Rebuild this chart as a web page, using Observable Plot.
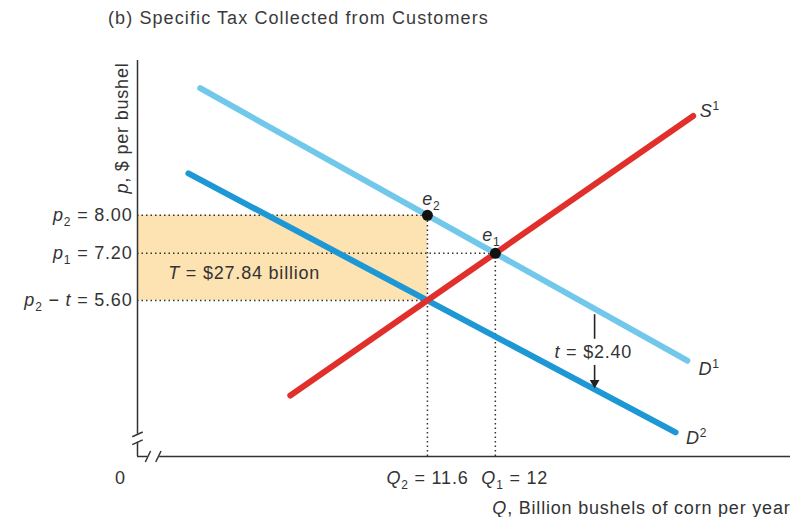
<!DOCTYPE html>
<html><head><meta charset="utf-8">
<script src="https://cdn.jsdelivr.net/npm/d3@7"></script>
<script src="https://cdn.jsdelivr.net/npm/@observablehq/plot@0.6"></script>
<style>
body{margin:0;background:#fff;font-family:"Liberation Sans",Arial,sans-serif;}
#title{height:36px;padding-left:108px;font-size:18px;letter-spacing:1.1px;line-height:36px;color:#3a3a3a;white-space:nowrap;}
</style></head><body>
<div id="title">(b) Specific Tax Collected from Customers</div>
<div id="chart"></div>
<script>
// Schematic diagram units (not to scale, as in the textbook figure): 0..100 on both axes
const supplyS1 = [{q: 23.4, p: 15.4}, {q: 85.1, p: 86.0}];
const demandD1 = [{q: 9.6, p: 93.0}, {q: 84.2, p: 24.2}];
const demandD2 = [{q: 7.8, p: 71.5}, {q: 82.4, p: 6.1}];
const curveLabels = ["*S*^1", "*D*^1", "*D*^2"];
const curveLabelPos = [{q: 86.1, p: 87.2}, {q: 85.9, p: 22.0}, {q: 84.0, p: 4.6}];

const qTicks = [44.4, 54.8];                       // Q2 = 11.6, Q1 = 12
const qTickLabels = ["*Q*_2 = 11.6", "*Q*_1 = 12"];
const pTicks = [60.9, 51.3, 39.4];                 // p2 = 8.00, p1 = 7.20, p2 - t = 5.60
const pTickLabels = ["*p*_2 = 8.00", "*p*_1 = 7.20", "*p*_2 − *t* = 5.60"];
const pGuideEnds = [44.4, 54.8, 44.4];

const eqNames = ["*e*_2", "*e*_1"];
const eqQ = [44.4, 54.8];
const eqP = [60.9, 51.3];

const taxLabel = "*t* = $2.40";
const taxRevenueLabel = "*T* = $27.84 billion";
const xLabel = "*Q*, Billion bushels of corn per year";
const yLabel = "*p*, $ per bushel";

const pGuides = pTicks.map((p, i) => ({p, q: pGuideEnds[i], label: pTickLabels[i]}));
const qGuides = qTicks.map((q, i) => ({q, p: eqP[i], label: qTickLabels[i]}));
const eq = eqNames.map((name, i) => ({name, q: eqQ[i], p: eqP[i]}));
const revenueBox = [{x1: 0, x2: qTicks[0], y1: pTicks[2], y2: pTicks[0]}];
const labels = curveLabels.map((t, i) => ({t, ...curveLabelPos[i]}));

const ink = "#333";
const dotted = {stroke: ink, strokeWidth: 1.5, strokeDasharray: "1.5,3"};
const txt = {fontSize: 18, fill: ink};

const chart = Plot.plot({
  width: 804, height: 481,
  marginLeft: 137, marginRight: 14, marginTop: 24, marginBottom: 61,
  x: {domain: [0, 100], axis: null},
  y: {domain: [0, 100], axis: null},
  style: {fontFamily: "'Liberation Sans', Arial, sans-serif", fontSize: "18px", color: ink, background: "#fff", overflow: "visible", letterSpacing: "0.8px"},
  marks: [
    Plot.rect(revenueBox, {x1: "x1", x2: "x2", y1: "y1", y2: "y2", fill: "#FDE2B2"}),
    Plot.ruleY(pGuides, {y: "p", x1: 0, x2: "q", ...dotted}),
    Plot.ruleX(qGuides, {x: "q", y1: 0, y2: "p", ...dotted}),
    Plot.line(demandD1, {x: "q", y: "p", stroke: "#72C8EA", strokeWidth: 6}),
    Plot.line(demandD2, {x: "q", y: "p", stroke: "#1E98D5", strokeWidth: 6}),
    Plot.line(supplyS1, {x: "q", y: "p", stroke: "#E1302C", strokeWidth: 6}),
    Plot.dot(eq, {x: "q", y: "p", r: 5.5, fill: "#111"}),
    Plot.text([eq[0]], {x: "q", y: "p", text: "name", dx: 4, dy: -16, ...txt}),
    Plot.text([eq[1]], {x: "q", y: "p", text: "name", dx: -4, dy: -18, ...txt}),
    Plot.text(labels, {x: "q", y: "p", text: "t", textAnchor: "start", ...txt}),
    // tax wedge arrow (from D1 down to D2)
    Plot.ruleX([{q: 70.0, a: 35.8, b: 29.6}], {x: "q", y1: "a", y2: "b", stroke: "#222", strokeWidth: 1.6}),
    Plot.ruleX([{q: 70.0, a: 23.0, b: 19.0}], {x: "q", y1: "a", y2: "b", stroke: "#222", strokeWidth: 1.6}),
    Plot.dot([{q: 70.0, p: 18.6}], {x: "q", y: "p", symbol: "triangle", rotate: 180, r: 3.6, fill: "#222"}),
    Plot.text([taxLabel], {x: 69.8, y: 26.3, text: d => d, ...txt}),
    Plot.text([taxRevenueLabel], {x: 4.7, y: 46.2, text: d => d, textAnchor: "start", ...txt}),
    // axes with breaks
    Plot.ruleX([0], {y1: 5.6, y2: 100, stroke: ink, strokeWidth: 1.5}),
    Plot.ruleX([0], {y1: 0, y2: 3.6, stroke: ink, strokeWidth: 1.5}),
    Plot.ruleY([0], {x1: 0, x2: 1.6, stroke: ink, strokeWidth: 1.5}),
    Plot.ruleY([0], {x1: 3.4, x2: 100, stroke: ink, strokeWidth: 1.5}),
    Plot.link([{x1: -0.8, y1: 3.0, x2: 0.8, y2: 4.2}, {x1: -0.8, y1: 5.0, x2: 0.8, y2: 6.2}],
      {x1: "x1", y1: "y1", x2: "x2", y2: "y2", stroke: ink, strokeWidth: 1.5}),
    Plot.link([{x1: 1.2, y1: -1.4, x2: 2.0, y2: 1.4}, {x1: 2.8, y1: -1.4, x2: 3.6, y2: 1.4}],
      {x1: "x1", y1: "y1", x2: "x2", y2: "y2", stroke: ink, strokeWidth: 1.5}),
    // tick labels
    Plot.text(pGuides, {x: 0, y: "p", text: "label", textAnchor: "end", dx: -5, ...txt}),
    Plot.text([qGuides[0]], {x: "q", y: 0, text: "label", dy: 22, ...txt}),
    Plot.text([qGuides[1]], {x: "q", y: 0, text: "label", textAnchor: "start", dx: -14, dy: 22, ...txt}),
    Plot.text(["0"], {x: 0, y: 0, text: d => d, dx: -17, dy: 22, ...txt}),
    Plot.text([xLabel], {x: 100, y: 0, text: d => d, textAnchor: "end", dy: 52, ...txt}),
    Plot.text([yLabel], {x: 0, y: 99.5, text: d => d, textAnchor: "end", rotate: -90, dx: -15, ...txt})
  ]
});

// Rich text: *italic*, _sub, ^sup
const NS = "http://www.w3.org/2000/svg";
chart.querySelectorAll("text").forEach(el => {
  const s = el.textContent;
  if (!/[*_^]/.test(s)) return;
  while (el.firstChild) el.removeChild(el.firstChild);
  const re = /\*([^*]+)\*|_(\d)|\^(\d)|([^*_^]+)/g;
  let m, shift = 0;
  while ((m = re.exec(s))) {
    const t = document.createElementNS(NS, "tspan");
    let ns = 0;
    if (m[1]) { t.textContent = m[1]; t.setAttribute("font-style", "italic"); }
    else if (m[2]) { t.textContent = m[2]; t.setAttribute("font-size", "12px"); ns = 5; }
    else if (m[3]) { t.textContent = m[3]; t.setAttribute("font-size", "12px"); ns = -7; }
    else { t.textContent = m[4]; }
    if (ns !== shift) { t.setAttribute("dy", (ns - shift) + "px"); shift = ns; }
    el.appendChild(t);
  }
});
document.getElementById("chart").appendChild(chart);
</script>
</body></html>
